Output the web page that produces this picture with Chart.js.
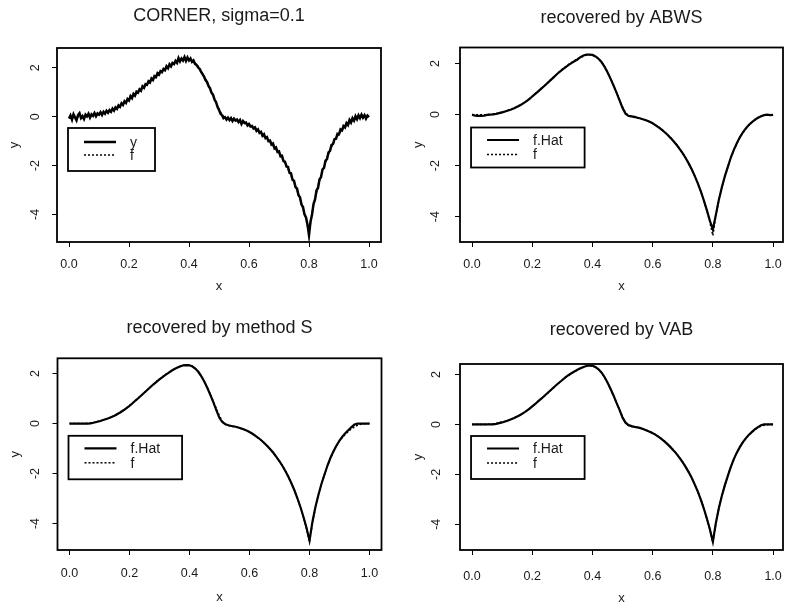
<!DOCTYPE html>
<html><head><meta charset="utf-8">
<script src="https://cdn.jsdelivr.net/npm/chart.js@4"></script>
<style>
body{margin:0;background:#fff;width:786px;height:607px;position:relative;overflow:hidden}
.p{position:absolute}
</style>
</head><body>
<div class="p" style="left:0;top:0"><canvas id="c1" width="393" height="303"></canvas></div>
<div class="p" style="left:393px;top:0"><canvas id="c2" width="393" height="303"></canvas></div>
<div class="p" style="left:0;top:303px"><canvas id="c3" width="393" height="304"></canvas></div>
<div class="p" style="left:393px;top:303px"><canvas id="c4" width="393" height="304"></canvas></div>
<script>
// ---------- data ----------
const xFine = [
0,0.005,0.01,0.015,0.02,0.025,0.03,0.035,0.04,0.045,
0.05,0.055,0.06,0.065,0.07,0.075,0.08,0.085,0.09,0.095,
0.1,0.105,0.11,0.115,0.12,0.125,0.13,0.135,0.14,0.145,
0.15,0.155,0.16,0.165,0.17,0.175,0.18,0.185,0.19,0.195,
0.2,0.205,0.21,0.215,0.22,0.225,0.23,0.235,0.24,0.245,
0.25,0.255,0.26,0.265,0.27,0.275,0.28,0.285,0.29,0.295,
0.3,0.305,0.31,0.315,0.32,0.325,0.33,0.335,0.34,0.345,
0.35,0.355,0.36,0.365,0.37,0.375,0.38,0.385,0.39,0.395,
0.4,0.405,0.41,0.415,0.42,0.425,0.43,0.435,0.44,0.445,
0.45,0.455,0.46,0.465,0.47,0.475,0.48,0.485,0.49,0.495,
0.5,0.505,0.51,0.515,0.52,0.525,0.53,0.535,0.54,0.545,
0.55,0.555,0.56,0.565,0.57,0.575,0.58,0.585,0.59,0.595,
0.6,0.605,0.61,0.615,0.62,0.625,0.63,0.635,0.64,0.645,
0.65,0.655,0.66,0.665,0.67,0.675,0.68,0.685,0.69,0.695,
0.7,0.705,0.71,0.715,0.72,0.725,0.73,0.735,0.74,0.745,
0.75,0.755,0.76,0.765,0.77,0.775,0.78,0.785,0.79,0.795,
0.8,0.805,0.81,0.815,0.82,0.825,0.83,0.835,0.84,0.845,
0.85,0.855,0.86,0.865,0.87,0.875,0.88,0.885,0.89,0.895,
0.9,0.905,0.91,0.915,0.92,0.925,0.93,0.935,0.94,0.945,
0.95,0.955,0.96,0.965,0.97,0.975,0.98,0.985,0.99,0.995,
1];
const yNoisy = [
-0.08,0.05,-0.12,0.10,-0.03,-0.15,0.06,0.14,-0.06,0.02,
-0.10,0.08,0.01,0.12,-0.04,0.09,0.03,0.15,0.02,0.13,
0.08,0.18,0.07,0.20,0.12,0.24,0.16,0.27,0.20,0.33,
0.25,0.38,0.32,0.46,0.40,0.55,0.48,0.63,0.56,0.72,
0.66,0.84,0.76,0.93,0.86,1.02,0.98,1.12,1.06,1.24,
1.18,1.33,1.30,1.45,1.40,1.56,1.50,1.66,1.62,1.78,
1.72,1.86,1.82,1.95,1.90,2.06,1.98,2.14,2.06,2.20,
2.15,2.28,2.20,2.40,2.26,2.38,2.30,2.44,2.28,2.42,
2.30,2.38,2.24,2.30,2.16,2.12,2.02,1.96,1.84,1.74,
1.64,1.50,1.42,1.26,1.16,0.98,0.90,0.70,0.60,0.40,
0.28,0.12,0.06,-0.06,-0.02,-0.12,-0.04,-0.14,-0.06,-0.18,
-0.08,-0.16,-0.12,-0.22,-0.14,-0.30,-0.18,-0.26,-0.24,-0.36,
-0.30,-0.40,-0.38,-0.48,-0.44,-0.58,-0.52,-0.66,-0.62,-0.78,
-0.72,-0.88,-0.84,-1.00,-0.98,-1.14,-1.10,-1.30,-1.26,-1.44,
-1.42,-1.62,-1.60,-1.82,-1.84,-2.04,-2.06,-2.30,-2.32,-2.58,
-2.62,-2.88,-2.94,-3.22,-3.30,-3.60,-3.70,-4.00,-4.12,-4.42,
-4.85,-4.30,-4.02,-3.58,-3.40,-3.02,-2.92,-2.56,-2.48,-2.16,
-2.10,-1.80,-1.74,-1.46,-1.40,-1.16,-1.12,-0.92,-0.90,-0.70,
-0.72,-0.52,-0.56,-0.38,-0.44,-0.26,-0.34,-0.14,-0.24,-0.06,
-0.16,0.02,-0.10,0.06,-0.06,0.08,-0.04,0.06,-0.08,0.04,
-0.02];
const xGrid = [
0,0.01,0.02,0.03,0.04,0.05,0.06,0.07,0.08,0.09,
0.1,0.11,0.12,0.13,0.14,0.15,0.16,0.17,0.18,0.19,
0.2,0.21,0.22,0.23,0.24,0.25,0.26,0.27,0.28,0.29,
0.3,0.31,0.32,0.33,0.34,0.35,0.36,0.37,0.38,0.39,
0.4,0.41,0.42,0.43,0.44,0.45,0.46,0.47,0.48,0.49,
0.5,0.51,0.52,0.53,0.54,0.55,0.56,0.57,0.58,0.59,
0.6,0.61,0.62,0.63,0.64,0.65,0.66,0.67,0.68,0.69,
0.7,0.71,0.72,0.73,0.74,0.75,0.76,0.77,0.78,0.79,
0.8,0.81,0.82,0.83,0.84,0.85,0.86,0.87,0.88,0.89,
0.9,0.91,0.92,0.93,0.94,0.95,0.96,0.97,0.98,0.99,
1];
const fTrue = [
0.00,0.00,0.00,0.00,0.00,0.00,0.01,0.02,0.04,0.07,
0.10,0.13,0.17,0.21,0.26,0.32,0.38,0.45,0.53,0.62,
0.72,0.82,0.92,1.03,1.13,1.24,1.35,1.46,1.57,1.68,
1.78,1.87,1.96,2.04,2.11,2.18,2.24,2.29,2.33,2.35,
2.34,2.29,2.20,2.07,1.89,1.67,1.42,1.15,0.87,0.58,
0.30,0.08,-0.04,-0.08,-0.11,-0.13,-0.16,-0.19,-0.23,-0.28,
-0.34,-0.41,-0.49,-0.58,-0.68,-0.79,-0.91,-1.04,-1.18,-1.34,
-1.51,-1.70,-1.91,-2.14,-2.40,-2.68,-3.00,-3.36,-3.76,-4.20,
-4.74,-3.95,-3.35,-2.85,-2.42,-2.05,-1.68,-1.38,-1.12,-0.90,
-0.70,-0.55,-0.42,-0.31,-0.21,-0.13,-0.07,-0.03,-0.01,0.00,
0.00];
const fHatABWS = [
0.00,-0.04,-0.05,-0.05,-0.04,-0.01,0.00,0.01,0.03,0.06,
0.09,0.12,0.16,0.20,0.25,0.31,0.37,0.44,0.52,0.61,
0.71,0.81,0.91,1.02,1.12,1.23,1.34,1.45,1.56,1.67,
1.76,1.85,1.94,2.02,2.09,2.16,2.25,2.32,2.35,2.35,
2.34,2.28,2.19,2.06,1.88,1.66,1.41,1.14,0.86,0.56,
0.26,0.03,-0.05,-0.07,-0.09,-0.12,-0.15,-0.19,-0.23,-0.28,
-0.34,-0.42,-0.50,-0.59,-0.69,-0.80,-0.92,-1.05,-1.19,-1.35,
-1.52,-1.71,-1.92,-2.15,-2.41,-2.69,-3.01,-3.36,-3.74,-4.15,
-4.50,-3.92,-3.33,-2.84,-2.41,-2.04,-1.67,-1.37,-1.11,-0.88,
-0.69,-0.53,-0.40,-0.29,-0.20,-0.12,-0.06,-0.02,0.00,-0.02,
-0.01];
const fHatS = [
0.00,0.00,0.00,0.00,0.00,0.00,0.00,0.01,0.03,0.06,
0.09,0.13,0.17,0.21,0.26,0.31,0.38,0.45,0.53,0.62,
0.71,0.81,0.92,1.02,1.13,1.24,1.35,1.46,1.57,1.67,
1.77,1.86,1.95,2.03,2.11,2.18,2.24,2.29,2.33,2.34,
2.33,2.28,2.19,2.06,1.88,1.66,1.41,1.13,0.84,0.52,
0.22,0.05,-0.03,-0.07,-0.10,-0.12,-0.15,-0.19,-0.23,-0.28,
-0.34,-0.41,-0.49,-0.58,-0.68,-0.79,-0.91,-1.04,-1.18,-1.34,
-1.51,-1.70,-1.91,-2.14,-2.40,-2.68,-3.00,-3.35,-3.74,-4.17,
-4.68,-3.92,-3.33,-2.84,-2.41,-2.04,-1.68,-1.37,-1.11,-0.88,
-0.68,-0.52,-0.38,-0.26,-0.14,-0.04,0.00,0.00,0.00,0.00,
0.00];
const fHatVAB = [
0.00,0.00,0.00,0.00,0.00,0.00,0.00,0.00,0.02,0.05,
0.08,0.12,0.16,0.21,0.26,0.32,0.38,0.45,0.53,0.62,
0.72,0.82,0.93,1.03,1.14,1.25,1.36,1.47,1.58,1.68,
1.78,1.88,1.97,2.05,2.12,2.19,2.25,2.30,2.34,2.36,
2.35,2.30,2.21,2.08,1.90,1.68,1.43,1.16,0.86,0.58,
0.27,0.07,-0.03,-0.07,-0.10,-0.12,-0.15,-0.19,-0.24,-0.29,
-0.35,-0.42,-0.50,-0.59,-0.69,-0.80,-0.92,-1.05,-1.19,-1.35,
-1.52,-1.71,-1.92,-2.15,-2.41,-2.69,-3.01,-3.37,-3.77,-4.20,
-4.70,-3.95,-3.35,-2.86,-2.43,-2.05,-1.69,-1.38,-1.12,-0.90,
-0.71,-0.55,-0.41,-0.30,-0.19,-0.11,-0.03,0.00,0.00,0.00,
0.00];
const xTickValues = [0,0.2,0.4,0.6,0.8,1.0];
const xTickLabels = ["0.0","0.2","0.4","0.6","0.8","1.0"];
const yTickValues = [-4,-2,0,2];
const yTickLabels = ["-4","-2","0","2"];
const panelTitles = ["CORNER, sigma=0.1","recovered by ABWS","recovered by method S","recovered by VAB"];
const seriesLabelsTop = ["y","f"];
const seriesLabelsHat = ["f.Hat","f"];

// ---------- helpers ----------
const FAM = '"Liberation Sans", Arial, Helvetica, sans-serif';
const TXT = '#1a1a1a';
const pts = (xs, ys) => xs.map((x, i) => ({x: x, y: ys[i]}));

const boxPlugin = {
  id: 'rbox',
  afterDatasetsDraw(chart) {
    const {ctx, chartArea: a} = chart;
    ctx.save();
    ctx.strokeStyle = '#000'; ctx.lineWidth = 1.8;
    ctx.strokeRect(a.left, a.top, a.right - a.left, a.bottom - a.top);
    ctx.restore();
  }
};
const legendPlugin = {
  id: 'rlegend',
  afterDatasetsDraw(chart, args, o) {
    const ctx = chart.ctx;
    const left = chart.scales.x.getPixelForValue(0) - 1 + (o.dx || 0);
    const top = chart.chartArea.top + o.top;
    ctx.save();
    ctx.font = '14px ' + FAM;
    const ds = chart.data.datasets;
    const tw = Math.max(...ds.map(d => ctx.measureText(d.label).width));
    const w = o.textX + tw + o.padR;
    ctx.strokeStyle = '#000'; ctx.lineWidth = 1.8;
    ctx.strokeRect(left, top, w, o.h);
    ds.forEach((d, i) => {
      const y = top + o.rows[i];
      ctx.beginPath();
      ctx.setLineDash(d.borderDash || []);
      ctx.lineWidth = d.borderWidth;
      ctx.strokeStyle = '#000';
      ctx.moveTo(left + 16, y); ctx.lineTo(left + 48, y); ctx.stroke();
      ctx.setLineDash([]);
      ctx.fillStyle = TXT; ctx.textBaseline = 'middle'; ctx.textAlign = 'left';
      ctx.fillText(d.label, left + o.textX, y + 1);
    });
    ctx.restore();
  }
};
const zeroPad = s => { s.paddingLeft = 0; s.paddingRight = 0; s.paddingTop = 0; s.paddingBottom = 0; };

function makePanel(id, cfg) {
  new Chart(document.getElementById(id), {
    type: 'line',
    data: {
      datasets: [
        {label: cfg.labels[0], data: pts(cfg.xs, cfg.ys), borderColor: '#000', borderWidth: cfg.lw, pointRadius: 0, tension: 0, fill: false},
        {label: cfg.labels[1], data: pts(xGrid, fTrue), borderColor: '#000', borderWidth: 1.5, borderDash: [2, 2], pointRadius: 0, tension: 0, fill: false}
      ]
    },
    options: {
      responsive: false, animation: false, events: [],
      layout: {padding: {left: 0, right: cfg.padR, top: 0, bottom: 0}},
      plugins: {
        legend: {display: false}, tooltip: {enabled: false},
        title: {display: true, text: cfg.title, fullSize: false, color: TXT,
          font: {family: FAM, size: 18, weight: 'normal'},
          padding: {top: cfg.titleTop, bottom: cfg.titleBottom}},
        rlegend: cfg.legend
      },
      scales: {
        x: {
          type: 'linear', min: cfg.xMin, max: cfg.xMax,
          afterBuildTicks: s => { s.ticks = xTickValues.map(v => ({value: v})); },
          afterFit: s => { s.height = cfg.xH; zeroPad(s); },
          ticks: {callback: (v, i) => xTickLabels[i], autoSkip: false, maxRotation: 0, color: TXT,
            padding: cfg.xTickPad, font: {family: FAM, size: 12.5}},
          grid: {display: true, drawOnChartArea: false, drawTicks: true, tickLength: 5, color: '#000', lineWidth: 1},
          border: {display: false},
          title: {display: true, text: 'x', color: TXT, font: {family: FAM, size: 13},
            padding: {top: 0, bottom: cfg.xTitlePad}}
        },
        y: {
          type: 'linear', min: cfg.yMin, max: cfg.yMax,
          afterBuildTicks: s => { s.ticks = yTickValues.map(v => ({value: v})); },
          afterFit: s => { s.width = cfg.yW; zeroPad(s); },
          ticks: {callback: (v, i) => yTickLabels[i], autoSkip: false, minRotation: 90, maxRotation: 90,
            crossAlign: 'center', color: TXT, padding: cfg.yTickPad, font: {family: FAM, size: 12.5}},
          grid: {display: true, drawOnChartArea: false, drawTicks: true, tickLength: 5, color: '#000', lineWidth: 1},
          border: {display: false},
          title: {display: true, text: 'y', color: TXT, font: {family: FAM, size: 13},
            padding: {top: cfg.yTitlePad, bottom: 0}}
        }
      }
    },
    plugins: [boxPlugin, legendPlugin]
  });
}

makePanel('c1', {title: panelTitles[0], labels: seriesLabelsTop, xs: xFine, ys: yNoisy, lw: 2.5,
  xMin: -0.04, xMax: 1.04, yMin: -5.13, yMax: 2.81,
  padR: 12, yW: 57, xH: 61, titleTop: 5.5, titleBottom: 20.9,
  xTickPad: 10.5, xTitlePad: 9.2, yTickPad: 10.5, yTitlePad: 6.2,
  legend: {top: 80, h: 43, rows: [14, 27], textX: 62, padR: 18}});

makePanel('c2', {title: panelTitles[1], labels: seriesLabelsHat, xs: xGrid, ys: fHatABWS, lw: 2.2,
  xMin: -0.04, xMax: 1.033, yMin: -4.99, yMax: 2.63,
  padR: 3, yW: 67, xH: 61, titleTop: 7.5, titleBottom: 18.4,
  xTickPad: 10.5, xTitlePad: 9.2, yTickPad: 13.5, yTitlePad: 17.5,
  legend: {top: 80, h: 40, rows: [12.5, 27], textX: 62, padR: 22}});

makePanel('c3', {title: panelTitles[2], labels: seriesLabelsHat, xs: xGrid, ys: fHatS, lw: 2.2,
  xMin: -0.04, xMax: 1.04, yMin: -5.06, yMax: 2.61,
  padR: 11.5, yW: 57.5, xH: 57, titleTop: 14.2, titleBottom: 19.5,
  xTickPad: 11.5, xTitlePad: 1.5, yTickPad: 11, yTitlePad: 7.2,
  legend: {top: 77.5, h: 43.5, rows: [12.5, 27], textX: 62, padR: 22}});

makePanel('c4', {title: panelTitles[3], labels: seriesLabelsHat, xs: xGrid, ys: fHatVAB, lw: 2.2,
  xMin: -0.04, xMax: 1.033, yMin: -5.03, yMax: 2.42,
  padR: 3, yW: 67, xH: 57, titleTop: 15.9, titleBottom: 23.5,
  xTickPad: 14, xTitlePad: 0.9, yTickPad: 12.5, yTitlePad: 17.5,
  legend: {top: 72, h: 43, rows: [12.5, 27], textX: 62, padR: 22}});
</script>
</body></html>
